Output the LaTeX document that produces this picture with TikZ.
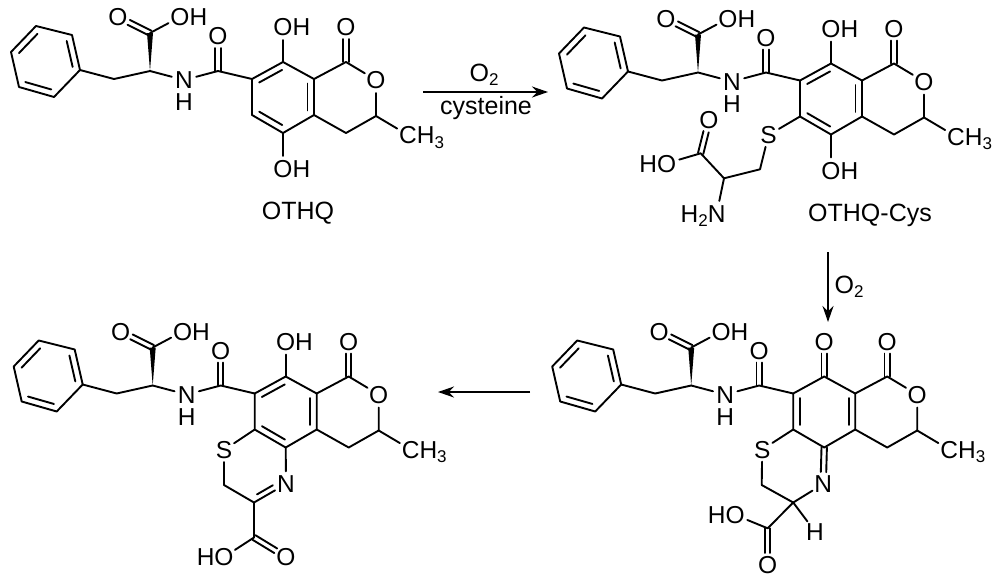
\documentclass[tikz,border=0pt]{standalone}
\usepackage{fontspec}
\setmainfont{Liberation Sans}
\usetikzlibrary{calc,arrows.meta}
\tikzset{
  bond/.style={line width=1.9pt,line cap=round,line join=round},
  atom/.style={circle,inner sep=0pt,text height=17.5pt,text depth=0pt,font=\fontsize{24.5}{28}\selectfont},
  hatom/.style={rectangle,inner sep=0pt,text height=17.5pt,text depth=0pt,font=\fontsize{24.5}{28}\selectfont},
  lbl/.style={inner sep=0pt,font=\fontsize{25}{29}\selectfont},
  rxn/.style={line width=1.9pt,-{Stealth[length=16pt,width=11pt]}}
}
\newcommand{\subs}[1]{\raisebox{-4.5pt}{\fontsize{17}{17}\selectfont #1}}
% inner line of a ring double bond; the ring lies to the right of a->b
\newcommand{\inb}[2]{\draw[bond] ($(#1)!.13!(#2)!6.5pt!-90:(#2)$) -- ($(#2)!.13!(#1)!6.5pt!90:(#1)$);}
% symmetric double bond from carbon #1 to atom node #2
\newcommand{\dbo}[2]{\draw[bond] ($(#1)!2.7pt!90:(#2)$) -- ($(#2)!12pt!(#1)!2.7pt!-90:(#1)$);
  \draw[bond] ($(#1)!2.7pt!-90:(#2)$) -- ($(#2)!12pt!(#1)!2.7pt!90:(#1)$);}
\newcommand{\molbody}{%
  \coordinate (p1) at (11,52); \coordinate (p2) at (36,26); \coordinate (p3) at (72,35);
  \coordinate (p4) at (80,70); \coordinate (p5) at (54,97); \coordinate (p6) at (19,87);
  \coordinate (ch2) at (114,79); \coordinate (ca) at (150,71); \coordinate (cc) at (150,33);
  \coordinate (am) at (218,71); \coordinate (c7) at (252,79); \coordinate (c8) at (283,62);
  \coordinate (c8a) at (314,79); \coordinate (c4a) at (314,115); \coordinate (c5) at (283,133);
  \coordinate (c6) at (252,115); \coordinate (c1) at (346,62); \coordinate (c3) at (376,116);
  \coordinate (c4) at (346,133);
  \node[atom] (oa) at (118,17) {O};
  \node[atom] (ob) at (180,17) {O\rlap{H}};
  \node[hatom,minimum width=24pt] (n) at (184,80) {N};
  \node[hatom] (nh) at (184,102) {H};
  \node[atom] (oc) at (218,36) {O};
  \node[atom] (od) at (346,27) {O};
  \node[atom] (oe) at (376,80) {O};
  \node[atom] (me) at (408,135) {C\rlap{H\subs{3}}};
  \draw[bond] (p1) -- (p2) -- (p3) -- (p4) -- (p5) -- (p6) -- cycle;
  \inb{p1}{p2} \inb{p3}{p4} \inb{p5}{p6}
  \draw[bond] (p4) -- (ch2) -- (ca) -- (n) -- (am) -- (c7);
  \fill (ca) -- ($(cc)+(3,0)$) -- ($(cc)+(-3,0)$) -- cycle;
  \dbo{cc}{oa} \draw[bond] (cc) -- (ob);
  \dbo{am}{oc}
  \draw[bond] (c7) -- (c8) -- (c8a) -- (c4a) -- (c5) -- (c6) -- cycle;
  \inb{c8a}{c4a}
  \draw[bond] (c8a) -- (c1) -- (oe) -- (c3) -- (c4) -- (c4a);
  \dbo{c1}{od}
  \draw[bond] (c3) -- (me);
}
\begin{document}
\begin{tikzpicture}[x=1pt,y=-1pt]
\useasboundingbox (0,0) rectangle (1000,584);
% OTHQ
\begin{scope}[name prefix=a-]
  \molbody
  \inb{c7}{c8} \inb{c5}{c6}
  \node[atom] (o8) at (283,27) {O\rlap{H}};
  \node[atom] (o5) at (283,169) {O\rlap{H}};
  \draw[bond] (c8) -- (o8);
  \draw[bond] (c5) -- (o5);
\end{scope}
\node[lbl] (nameA) at (298,213) {OTHQ};
% OTHQ-Cys
\begin{scope}[shift={(548,1.5)},name prefix=b-]
  \molbody
  \inb{c7}{c8} \inb{c5}{c6}
  \node[atom] (o8) at (283,27) {O\rlap{H}};
  \node[atom] (o5) at (283,169) {O\rlap{H}};
  \node[atom] (s) at (220.5,133.5) {S};
  \node[atom] (oh) at (118.7,161.8) {\llap{H}O};
  \node[atom] (oo) at (161,118.5) {O};
  \node[atom] (nn) at (168.7,211.8) {\llap{H\subs{2}}N};
  \coordinate (s2) at (212,167.8); \coordinate (s3) at (176,176.8); \coordinate (s4) at (152.7,151.8);
  \draw[bond] (c8) -- (o8);
  \draw[bond] (c5) -- (o5);
  \draw[bond] (c6) -- (s) -- (s2) -- (s3) -- (s4) -- (oh);
  \draw[bond] (s3) -- (nn);
  \dbo{s4}{oo}
\end{scope}
\node[lbl] (nameB) at (870,215) {OTHQ-Cys};
% bottom right
\begin{scope}[shift={(541.2,314.5)},name prefix=c-]
  \molbody
  \inb{c6}{c7}
  \node[atom] (o8) at (283,27) {O};
  \node[atom] (s) at (221,135) {S};
  \node[atom] (nn) at (282,169.5) {N};
  \node[atom] (oh) at (194,200.5) {\llap{H}O};
  \node[atom] (oo) at (226.5,250.5) {O};
  \node[atom] (hh) at (273.8,217) {H};
  \coordinate (s2) at (220.5,170.5); \coordinate (s3) at (252,188); \coordinate (s4) at (226.5,213.8);
  \dbo{c8}{o8}
  \dbo{c5}{nn}
  \draw[bond] (c6) -- (s) -- (s2) -- (s3) -- (nn);
  \draw[bond] (s3) -- (s4) -- (oh);
  \draw[bond] (s3) -- (hh);
  \dbo{s4}{oo}
\end{scope}
% bottom left
\begin{scope}[shift={(2.7,314.5)},name prefix=d-]
  \molbody
  \inb{c7}{c8} \inb{c5}{c6}
  \node[atom] (o8) at (283,27) {O\rlap{H}};
  \node[atom] (s) at (221.3,135.5) {S};
  \node[atom] (nn) at (283.3,169.5) {N};
  \node[atom] (oh) at (221.3,242.5) {\llap{H}O};
  \node[atom] (oo) at (283.3,242.5) {O};
  \coordinate (s2) at (221.3,170.5); \coordinate (s3) at (251.3,188); \coordinate (s4) at (251.3,223);
  \draw[bond] (c8) -- (o8);
  \draw[bond] (c6) -- (s) -- (s2) -- (s3) -- (nn) -- (c5);
  \draw[bond] ($(s3)!.18!(nn)!5.5pt!90:(nn)$) -- ($(nn)!12pt!(s3)!5.5pt!-90:(s3)$);
  \draw[bond] (s3) -- (s4) -- (oh);
  \dbo{s4}{oo}
\end{scope}
% arrows
\coordinate (r1s) at (423,92); \coordinate (r1e) at (548,92);
\coordinate (r2s) at (828,252); \coordinate (r2e) at (828,322);
\coordinate (r3s) at (530,392); \coordinate (r3e) at (438,392);
\draw[rxn] (r1s) -- (r1e);
\draw[rxn] (r2s) -- (r2e);
\draw[rxn] (r3s) -- (r3e);
\node[lbl] (t1) at (484,75) {O\subs{2}};
\node[lbl] (t2) at (486,108) {cysteine};
\node[lbl] (t3) at (849,287) {O\subs{2}};
\end{tikzpicture}
\end{document}
